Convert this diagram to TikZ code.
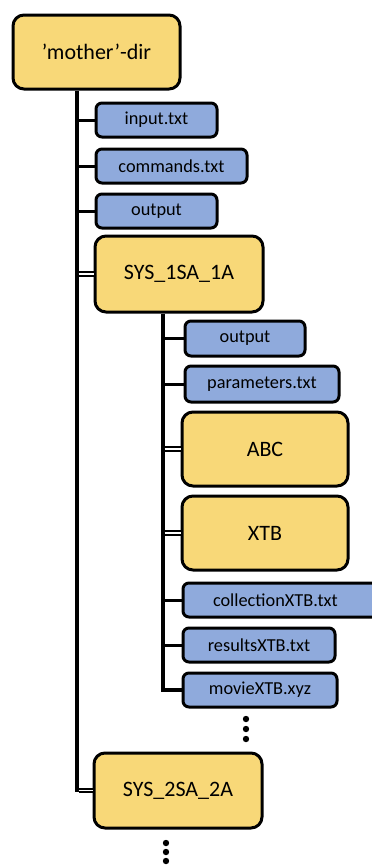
\documentclass[tikz,border=0pt]{standalone}
\usepackage{fontspec}
\setmainfont{Carlito}
\definecolor{fyellow}{HTML}{F8D878}
\definecolor{fblue}{HTML}{8FAADC}
\tikzset{
  box/.style={draw=black, line width=3pt, inner sep=0pt, anchor=north west, align=center},
  dirbox/.style={box, fill=fyellow, rounded corners=11pt, font=\fontsize{22}{26}\selectfont},
  filebox/.style={box, fill=fblue, rounded corners=6pt, font=\fontsize{18.3}{22}\selectfont},
  trunk/.style={draw=black, line width=3.5pt},
  branch/.style={draw=black, line width=3pt},
  dbl/.style={draw=black, line width=2pt, double=white, double distance=1.8pt},
  dotmark/.style={fill=black, draw=none}
}
\begin{document}
\begin{tikzpicture}[x=1pt,y=1pt]
\useasboundingbox (0,0) rectangle (372,-865);
\clip (0,0) rectangle (372,-865);
% boxes (path corners)
\node[dirbox, minimum width=167pt, minimum height=74pt] (mother) at (11.5,-13.5) {'mother'-dir};
\node[filebox, minimum width=121pt, minimum height=34pt] (input) at (94.5,-101.5) {input.txt};
\node[filebox, minimum width=151pt, minimum height=34pt] (commands) at (94.5,-147.5) {commands.txt};
\node[filebox, minimum width=121pt, minimum height=34pt] (output1) at (94.5,-192.5) {output};
\node[dirbox, minimum width=168pt, minimum height=76pt] (sys1) at (93.5,-234.5) {SYS\_1SA\_1A};
\node[filebox, minimum width=120pt, minimum height=35pt] (output2) at (183.5,-319.5) {output};
\node[filebox, minimum width=154pt, minimum height=36pt] (params) at (183.5,-364.5) {parameters.txt};
\node[dirbox, minimum width=166pt, minimum height=74pt] (abc) at (180.5,-410.5) {ABC};
\node[dirbox, minimum width=166pt, minimum height=74pt] (xtb) at (180.5,-494.5) {XTB};
\node[filebox, minimum width=220pt, minimum height=34pt, text width=190pt, align=left] (coll) at (181.5,-581.5) {\hspace*{15pt}collectionXTB.txt};
\node[filebox, minimum width=152pt, minimum height=34pt] (results) at (181.5,-626.5) {resultsXTB.txt};
\node[filebox, minimum width=154pt, minimum height=34pt] (movie) at (181.5,-671.5) {movieXTB.xyz};
\node[dirbox, minimum width=168pt, minimum height=75pt] (sys2) at (92.5,-751.5) {SYS\_2SA\_2A};
% trunk coordinates
\coordinate (t1) at (77,0);
\coordinate (t2) at (163,0);
% main trunk
\draw[trunk] (t1 |- mother.south) |- (sys2.west);
\draw[branch] (t1 |- input.west) -- (input.west);
\draw[branch] (t1 |- commands.west) -- (commands.west);
\draw[branch] (t1 |- output1.west) -- (output1.west);
\draw[dbl] ([xshift=1.7pt]t1 |- sys1.west) -- (sys1.west);
\draw[dbl] ([xshift=1.7pt]t1 |- sys2.west) -- (sys2.west);
% second trunk
\draw[trunk] (t2 |- sys1.south) |- (movie.west);
\draw[branch] (t2 |- output2.west) -- (output2.west);
\draw[branch] (t2 |- params.west) -- (params.west);
\draw[dbl] ([xshift=1.7pt]t2 |- abc.west) -- (abc.west);
\draw[dbl] ([xshift=1.7pt]t2 |- xtb.west) -- (xtb.west);
\draw[branch] (t2 |- coll.west) -- (coll.west);
\draw[branch] (t2 |- results.west) -- (results.west);
% dots
\foreach \y in {719,729,739} \fill[dotmark] (246,-\y) circle (3.2);
\foreach \y in {843,852,861} \fill[dotmark] (166,-\y) circle (3.2);
\end{tikzpicture}
\end{document}
